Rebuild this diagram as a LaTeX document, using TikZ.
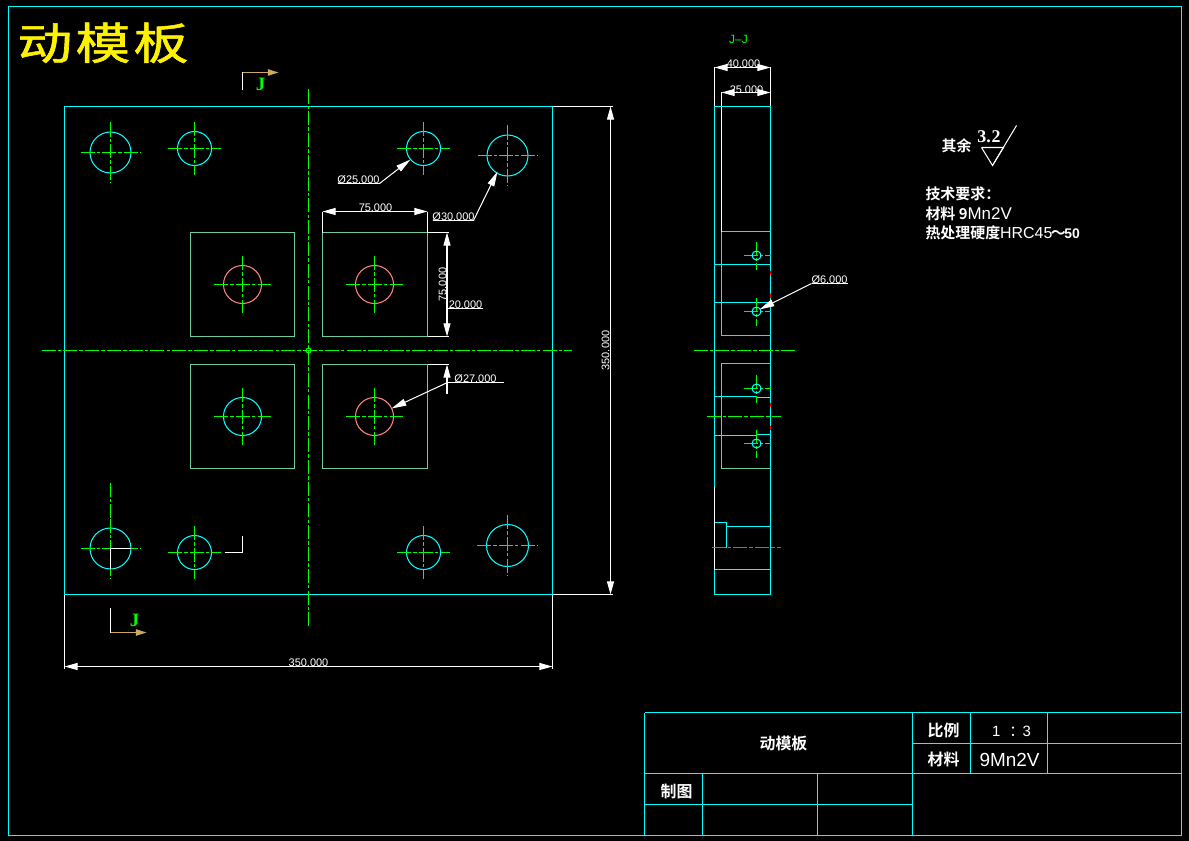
\documentclass[tikz,border=0pt]{standalone}
\usepackage{fontspec}
\usetikzlibrary{arrows.meta}
\setmainfont{Liberation Sans}
\newfontfamily\cjk[BoldFont={Noto Sans CJK SC Bold}]{Noto Sans CJK SC}
\newfontfamily\serifb[BoldFont={Liberation Serif Bold}]{Liberation Serif}
\newcommand\fpx[1]{\fontsize{\fpeval{#1*0.5669}pt}{\fpeval{#1*0.6}pt}\selectfont}
\definecolor{cy}{RGB}{0,255,255}
\definecolor{gn}{RGB}{0,255,0}
\definecolor{sq}{RGB}{110,205,160}
\definecolor{rd}{RGB}{255,130,130}
\definecolor{tan1}{RGB}{205,170,100}
\tikzset{
  x=0.02cm,y=-0.02cm,
  every node/.style={inner sep=0pt,outer sep=0pt,text=white},
  ln/.style={draw=cy,line width=0.58pt},
  sqr/.style={draw=sq,line width=0.58pt},
  wh/.style={draw=white,line width=0.58pt},
  axis/.style={draw=gn,line width=0.62pt,dash pattern=on 8pt off 1.2pt on 2pt off 1.2pt},
  dimtip/.style={wh,{Triangle[length=7.5pt,width=4pt,fill=white]}-{Triangle[length=7.5pt,width=4pt,fill=white]}},
  leadtip/.style={wh,-{Triangle[length=8.5pt,width=4pt,fill=white]}},
  dimtxt/.style={font=\fpx{11}},
  cn/.style={font=\cjk\bfseries\fpx{15}},
  jmark/.style={text=gn,font=\serifb\bfseries\fpx{19}}
}
\newcommand\hole[4]{% x y r colour
  \draw[draw=#4,line width=0.6pt] (#1,#2) circle [radius=#3];
  \draw[axis] ({#1-#3-9.5},#2) -- ({#1+#3+9.5},#2);
  \draw[axis] (#1,{#2-#3-9.5}) -- (#1,{#2+#3+9.5});
}
\newcommand\pin[2]{% small hole in the side view
  \draw[axis] (743,#2) -- (770,#2);
  \draw[axis] (#1,{#2-14}) -- (#1,{#2+14});
  \draw[draw=cy,line width=0.6pt] (#1,#2) circle [radius=4.5];
}
\begin{document}
\begin{tikzpicture}
\useasboundingbox (-0.5,-0.5) rectangle (1188.5,840.5);
\fill[black] (-0.5,-0.5) rectangle (1188.5,840.5);
% frame
\draw[ln] (8,6) rectangle (1181,835);
% title
\node[anchor=base west,text=yellow,font=\cjk\fpx{55},yscale=0.8] (title) at (17,59) {\addfontfeature{LetterSpace=6,FakeBold=1.2}动模板};
% plate
\draw[ln] (64,106) rectangle (552,594);
\draw[sqr] (190,232) rectangle (294,336);
\draw[sqr] (322,232) rectangle (427,336);
\draw[sqr] (190,364) rectangle (294,468);
\draw[sqr] (322,364) rectangle (427,468);
% axes
\draw[axis] (308,89) -- (308,628);
\draw[axis] (41,350) -- (571,350);
\draw[draw=gn,line width=0.6pt] (308,350) circle [radius=2.5];
% holes
\hole{110}{152}{20.5}{cy}
\hole{194}{148}{17}{cy}
\hole{423}{148}{17}{cy}
\hole{507}{155}{20.5}{cy}
\hole{110}{548}{20.5}{cy}
\hole{194}{552}{17}{cy}
\hole{423}{552}{17}{cy}
\hole{507}{545}{21}{cy}
\hole{242}{284}{19}{rd}
\hole{374}{284}{19}{rd}
\hole{242}{416}{19}{cy}
\hole{374}{416}{19}{rd}
\draw[axis] (110,482) -- (110,530);
% section marks
\draw[wh] (242,90) -- (242,72);
\draw[draw=tan1,line width=0.7pt,-{Triangle[length=6pt,width=3.6pt,fill=tan1]}] (242,72) -- (278,72);
\node[jmark] (j1) at (260,84) {J};
\draw[wh] (110,607) -- (110,632);
\draw[draw=tan1,line width=0.7pt,-{Triangle[length=6pt,width=3.6pt,fill=tan1]}] (110,632) -- (146,632);
\node[jmark] (j2) at (134,620) {J};
\draw[wh] (224,552) -- (242,552) -- (242,535);
\draw[wh] (130,548) -- (110,548) -- (110,568);
% overall dimensions
\draw[wh] (64,594) -- (64,668);
\draw[wh] (552,594) -- (552,668);
\draw[dimtip] (64,666) -- (552,666);
\node[dimtxt] (d1) at (308,662.5) {350.000};
\draw[wh] (552,106) -- (612,106);
\draw[wh] (552,594) -- (612,594);
\draw[dimtip] (610,106) -- (610,594);
\node[dimtxt,rotate=90] (d2) at (605,350) {350.000};
% pocket dimensions
\draw[wh] (322,232) -- (322,211);
\draw[wh] (427,232) -- (427,211);
\draw[dimtip] (322,211) -- (427,211);
\node[dimtxt] (d3) at (375,207.5) {75.000};
\draw[wh] (427,232) -- (448,232);
\draw[wh] (427,336) -- (448,336);
\draw[dimtip] (446.5,232) -- (446.5,336);
\node[dimtxt,rotate=90] (d4) at (442,284) {75.000};
\draw[wh] (447,308) -- (482,308);
\node[dimtxt] (d5) at (465,304.5) {20.000};
\draw[wh] (427,364) -- (448,364);
\draw[wh] (446.5,382) -- (446.5,393);
\draw[wh,-{Triangle[length=7.5pt,width=4pt,fill=white]}] (446.5,382) -- (446.5,364);
\draw[wh] (447,382) -- (503,382);
\node[dimtxt] (d6) at (475,378) {Ø27.000};
\draw[leadtip] (447,382) -- (391,408);
% leaders
\draw[wh] (337,183) -- (379,183);
\node[dimtxt] (d7) at (358,179.5) {Ø25.000};
\draw[leadtip] (379,183) -- (410,159);
\draw[wh] (432,220) -- (473,220);
\node[dimtxt] (d8) at (453,216.5) {Ø30.000};
\draw[leadtip] (473,220) -- (497,171);
% side view
\node[text=gn,font=\fpx{12}] (jj) at (738,39) {J–J};
\draw[wh] (721,92) -- (721,231);
\draw[sqr] (721,231) -- (721,335) -- (770,335);
\draw[sqr] (721,231) -- (770,231);
\draw[sqr] (770,363) -- (721,363) -- (721,468) -- (770,468);
\draw[ln] (714,106) rectangle (770,594);
\draw[wh] (714,486) -- (714,569);
\foreach \yy in {264,302} \draw[ln] (714,\yy) -- (770,\yy);
\draw[ln] (714,396) -- (756,396) -- (756,397) -- (770,397);
\draw[ln] (714,435) -- (756,435) -- (756,434) -- (770,434);
\draw[ln] (714,522) -- (726,522) -- (726,547);
\draw[ln] (726,526) -- (770,526);
\draw[ln] (714,569) -- (770,569);
\foreach \yy in {270,293,402,425} \draw[draw=red,line width=0.6pt] (770,\yy) -- (770,{\yy+4});
\draw[axis] (693,350) -- (796,350);
\draw[axis] (706,416) -- (780,416);
\draw[axis,draw=gn!80!black] (711,547) -- (780,547);
\pin{756}{255}
\pin{756}{311}
\pin{756}{388}
\pin{756}{443}
\draw[wh] (714,67) -- (714,106);
\draw[wh] (770,67) -- (770,106);
\draw[dimtip] (714,67) -- (770,67);
\node[dimtxt] (d9) at (743,63.5) {40.000};
\draw[dimtip] (721,92) -- (770,92);
\node[dimtxt] (d10) at (746,89) {25.000};
\draw[wh] (811,283) -- (847,283);
\node[dimtxt] (d11) at (829,279.5) {Ø6.000};
\draw[leadtip] (811,283) -- (759,309);
% surface finish
\node[cn] (qy) at (956,145) {其余};
\node[font=\serifb\bfseries\fpx{18}] (ra) at (988.5,136) {3.\kern0.05em2};
\draw[wh] (981,147) -- (1003,147) -- (992,165) -- (981,147);
\draw[wh] (992,165) -- (1016,125);
% notes
\node[cn,anchor=west] (n1) at (925,193) {技术要求：};
\node[cn,anchor=west] (n2) at (925,213) {材料 9\fpx{17}\mdseries\fontspec{Liberation Sans}Mn2V};
\node[cn,anchor=west] (n3) at (925,232) {热处理硬度{\fontspec{Liberation Sans}\mdseries\fpx{16}HRC45}\kern-0.1em～\kern-0.1em{\fontspec{Liberation Sans}\bfseries\fpx{14}50}};
% title block
\draw[ln] (644,712) -- (1181,712);
\draw[ln] (644,712) -- (644,835);
\draw[ln] (912,712) -- (912,835);
\draw[ln] (644,773) -- (1181,773);
\draw[ln] (912,743) -- (1181,743);
\draw[ln] (970,712) -- (970,773);
\draw[ln] (1047,712) -- (1047,773);
\draw[ln] (702,773) -- (702,835);
\draw[ln] (817,773) -- (817,835);
\draw[ln] (644,804) -- (912,804);
\node[cn,font=\cjk\bfseries\fpx{16}] (t1) at (783,743) {动模板};
\node[cn,font=\cjk\bfseries\fpx{16}] (t2) at (943,730) {比例};
\node[font=\fpx{15}] (t3) at (1011,731) {1\kern0.6em{\cjk：}\kern-0.1em3};
\node[cn,font=\cjk\bfseries\fpx{16}] (t4) at (943,759) {材料};
\node[font=\fpx{19}] (t5) at (1009,759) {9Mn2V};
\node[cn,font=\cjk\bfseries\fpx{16}] (t6) at (676,791) {制图};
\end{tikzpicture}
\end{document}
